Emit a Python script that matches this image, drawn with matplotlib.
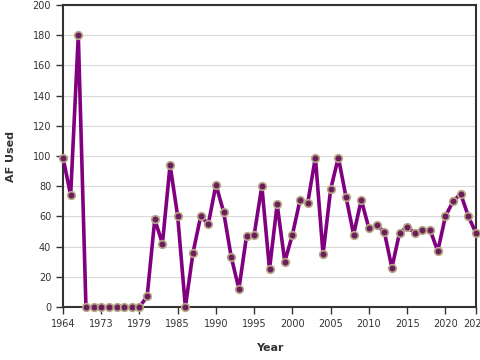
import matplotlib
matplotlib.use("Agg")
import matplotlib.pyplot as plt

years = [1964, 1965, 1966, 1970, 1972, 1973, 1974, 1975, 1976, 1977,
         1979, 1980, 1981, 1982, 1984] + list(range(1985, 2025))
values = [99, 74, 180, 0, 0, 0, 0, 0, 0, 0,
          0, 7, 58, 42, 94, 60, 0, 36, 60, 55,
          81, 63, 33, 12, 47, 48, 80, 25, 68, 30,
          48, 71, 69, 99, 35, 78, 99, 73, 48, 71,
          52, 54, 50, 26, 49, 53, 49, 51, 51, 37,
          60, 70, 75, 60, 49]
tick_labels = ["1964", "1973", "1979", "1985", "1990", "1995", "2000",
               "2005", "2010", "2015", "2020", "2024"]

fig = plt.figure(figsize=(4.8, 3.6), dpi=100)
ax = fig.add_axes([63/480, 1-307/360, (476-63)/480, (307-5)/360])

idx = list(range(len(years)))
ax.plot(idx, values, color="#800080", lw=2.6, zorder=3, clip_on=False,
        marker="o", ms=5.5, mfc="#6b1d5c", mec="#b8a888", mew=1.2)

ax.set_xlim(0, len(years)-1)
ax.set_ylim(0, 200)
ax.set_yticks(range(0, 201, 20))
tick_pos = [years.index(int(t)) for t in tick_labels]
ax.set_xticks(tick_pos)
ax.set_xticklabels(tick_labels)
ax.yaxis.grid(True, color="#d9d9d9", lw=0.8)
ax.set_axisbelow(True)
for s in ax.spines.values():
    s.set_color("#333333")
    s.set_linewidth(1.5)
ax.tick_params(axis="both", labelsize=7, colors="#333333", length=5, width=1)
for lab in ax.get_xticklabels() + ax.get_yticklabels():
    lab.set_color("#333333")
ax.set_xlabel("Year", fontsize=8, fontweight="bold", color="#333333", labelpad=10)
ax.set_ylabel("AF Used", fontsize=8, fontweight="bold", color="#333333", labelpad=12)

fig.savefig("out.png", dpi=100)
